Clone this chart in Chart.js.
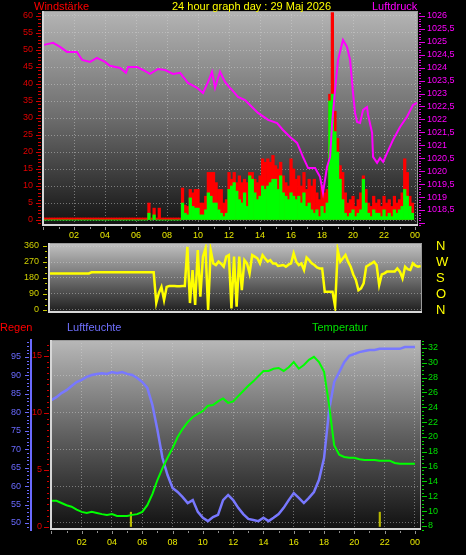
<!DOCTYPE html>
<html>
<head>
<meta charset="utf-8">
<script src="https://cdn.jsdelivr.net/npm/chart.js@4"></script>
<style>
  html, body { margin: 0; padding: 0; background: #000; width: 466px; height: 555px; overflow: hidden; }
  canvas { position: absolute; left: 0; }
  .lbl { position: absolute; font-family: "Liberation Sans", Arial, sans-serif; font-size: 11px; line-height: 12px; white-space: nowrap; }
</style>
</head>
<body>
<canvas id="windChart" width="466" height="245" style="top:0px"></canvas>
<canvas id="dirChart" width="466" height="76" style="top:240px"></canvas>
<canvas id="weatherChart" width="466" height="237" style="top:318px"></canvas>

<div class="lbl" style="left:34px;top:0px;color:#f00">Windstärke</div>
<div class="lbl" style="left:172px;top:0px;color:#ff0">24 hour graph day : 29 Maj 2026</div>
<div class="lbl" style="left:372px;top:0px;color:#f0f">Luftdruck</div>
<div class="lbl" style="left:0px;top:321px;color:#f00">Regen</div>
<div class="lbl" style="left:67px;top:321px;color:#7070ff">Luftfeuchte</div>
<div class="lbl" style="left:312px;top:321px;color:#00e000">Temperatur</div>

<script>
const FONT = '"Liberation Sans", Arial, sans-serif';

// x axis labels (hours), shared by the panels
const hourTicks = [2, 4, 6, 8, 10, 12, 14, 16, 18, 20, 22, 24];

// ---- top panel: wind (km/h, 10 min slots) and pressure (hPa)
const windTicks = [0, 5, 10, 15, 20, 25, 30, 35, 40, 45, 50, 55, 60];
const pressureTicks = [1018.5, 1019, 1019.5, 1020, 1020.5, 1021, 1021.5, 1022, 1022.5,
    1023, 1023.5, 1024, 1024.5, 1025, 1025.5, 1026];

const windGust = [
    0.6, 0.6, 0.6, 0.6, 0.6, 0.6,  0.6, 0.6, 0.6, 0.6, 0.6, 0.6,  0.6, 0.6, 0.6, 0.6, 0.6, 0.6,
    0.6, 0.6, 0.6, 0.6, 0.6, 0.6,  0.6, 0.6, 0.6, 0.6, 0.6, 0.6,  0.6, 0.6, 0.6, 0.6, 0.6, 0.6,
    0.6, 0.6, 0.6, 0.6, 0.6, 5,    0.6, 3.5, 0.6, 3.5, 0.6, 0.6,  0.6, 0.6, 0.6, 0.6, 0.6, 0.6,
    9.4, 4.4, 4, 9, 8, 9,          9, 5, 5, 7, 14, 14,            14, 11, 9, 9, 5, 6,
    14, 12, 14, 11, 13, 11,        12, 11, 14, 14, 12, 11,        13, 18, 17, 18, 17, 19,
    16, 15, 17, 13, 11, 10,        18, 15, 12, 13, 10, 14,        9, 12, 10, 12, 8, 6,
    10, 8, 9, 37, 61, 32,          24, 16, 14, 8, 5, 6,           7, 4, 6, 8, 13, 9,
    5, 4, 7, 5, 6, 4,              7, 5, 6, 4, 7, 5,              6, 8, 18, 14, 7, 5
];
const windSpeed = [
    0, 0, 0, 0, 0, 0,   0, 0, 0, 0, 0, 0,   0, 0, 0, 0, 0, 0,
    0, 0, 0, 0, 0, 0,   0, 0, 0, 0, 0, 0,   0, 0, 0, 0, 0, 0,
    0, 0, 0, 0, 0, 2,   0, 1.5, 0, 0, 0, 0, 0, 0, 0, 0, 0, 0,
    5, 2, 1.5, 6.5, 4, 3.5,   3.5, 1.5, 1.5, 3, 8, 7,   5, 5, 3, 2, 1, 2,
    9, 10, 11, 8.5, 6, 5,     8, 4, 13, 12, 8, 6,       7, 10, 9, 10, 11, 12,
    12, 9, 13, 8, 7, 6,       8, 7, 6, 7, 5, 8,         4, 5, 3, 2, 3, 1,
    4, 2, 5, 35, 37, 26,      20, 12, 6, 2, 1, 2,       3, 1, 2, 3, 12, 5,
    2, 1, 3, 2, 2, 1,         3, 1, 2, 1, 3, 2,         3, 4, 9, 7, 4, 2
];
const pressureHours = [
    0.06, 0.65, 1.10, 1.55, 2.19, 2.52, 3.03, 3.48, 4.00, 4.32,
    4.97, 5.35, 5.48, 6.06, 6.45, 6.90, 7.42, 7.87, 8.39, 8.84,
    9.35, 9.94, 10.32, 10.65, 10.90, 11.10, 11.42, 11.74, 12.06, 12.19,
    12.58, 13.03, 13.48, 13.87, 14.52, 15.10, 15.48, 15.94, 16.39, 16.77,
    17.10, 17.55, 17.87, 18.06, 18.32, 18.52, 18.65, 18.84, 19.03, 19.35,
    19.61, 19.81, 20.00, 20.13, 20.26, 20.45, 20.65, 20.90, 20.97, 21.23,
    21.29, 21.55, 21.74, 21.94, 22.19, 22.58, 23.03, 23.48, 23.87, 24.13
];
const pressureValues = [
    1024.88, 1024.96, 1024.80, 1024.61, 1024.61, 1024.30, 1024.22, 1024.38, 1024.22, 1024.07,
    1023.99, 1023.80, 1024.03, 1024.03, 1023.91, 1023.76, 1023.95, 1023.91, 1023.76, 1023.80,
    1023.41, 1023.22, 1023.02, 1023.45, 1023.84, 1023.22, 1023.84, 1023.45, 1023.22, 1023.14,
    1022.87, 1022.75, 1022.48, 1022.25, 1021.98, 1021.86, 1021.59, 1021.32, 1021.09, 1020.55,
    1020.12, 1020.12, 1019.78, 1019.16, 1020.16, 1020.55, 1021.86, 1023.14, 1024.30, 1025.07,
    1024.80, 1024.30, 1023.02, 1022.25, 1021.90, 1021.86, 1022.37, 1022.48, 1022.17, 1021.48,
    1020.55, 1020.32, 1020.51, 1020.36, 1020.70, 1021.21, 1021.71, 1022.10, 1022.56, 1022.64
];

// ---- middle panel: wind direction (degrees, 10 min slots)
const dirTicks = [0, 90, 180, 270, 360];
const dirLetters = ['N', 'O', 'S', 'W', 'N'];
const windDir = [
    206, 206, 206, 206, 206, 206, 206, 206, 206, 206, 206, 206, 206, 206, 206, 206,
    212, 212, 212, 212, 212, 212, 212, 212, 212, 212, 212, 212, 212, 212, 212, 212,
    212, 212, 212, 212, 212, 212, 212, 212, 212,
    40, 96, 130, 56, 130, 135, 135, 135, 133, 133, 135, 135,
    356, 39, 225, 28, 337, 75, 300, 347, 0, 337, 262, 253, 272, 260, 244, 300,
    309, 9, 300, 19, 300, 112, 281, 262, 206, 309, 300, 291, 262, 309, 290, 272,
    281, 262, 262, 248, 250, 253, 244, 255, 262, 319, 272, 253, 262, 225, 295, 281,
    262, 253, 240, 234, 234, 103, 103, 103, 103, 19, 337, 272, 291, 309, 272, 244,
    200, 169, 112, 122, 150, 244, 253, 262, 272, 253, 141, 200, 206, 216, 216, 216,
    216, 234, 216, 178, 244, 230, 225, 262, 250, 244, 247
];

// ---- bottom panel: humidity (%), temperature (C) every 20 min, rain (mm)
const humidityTicks = [50, 55, 60, 65, 70, 75, 80, 85, 90, 95];
const rainTicks = [0, 5, 10, 15];
const tempTicks = [8, 10, 12, 14, 16, 18, 20, 22, 24, 26, 28, 30, 32];
const humidity = [
    83.3, 84.1, 85.2, 86.0, 87.1, 88.2, 88.8, 89.6, 90.1, 90.4,
    90.6, 90.4, 90.9, 90.6, 90.9, 90.4, 90.1, 89.3, 88.2, 86.6,
    82.0, 75.2, 67.6, 63.0, 59.5, 58.4, 57.0, 55.4, 56.2, 53.0,
    51.4, 50.5, 51.6, 52.2, 56.2, 57.6, 56.2, 54.1, 52.4, 51.1,
    50.8, 50.5, 51.4, 50.5, 51.4, 52.4, 54.1, 56.2, 58.1, 56.8,
    55.4, 56.8, 58.4, 61.7, 67.6, 80.6, 88.2, 90.9, 93.6, 95.3,
    95.8, 96.3, 96.6, 96.9, 96.9, 97.2, 97.2, 97.2, 97.2, 97.2,
    97.7, 97.7, 97.7
];
const temperature = [
    11.4, 11.4, 11.1, 10.8, 10.6, 10.2, 9.9, 9.75, 9.9, 9.75,
    9.6, 9.5, 9.6, 9.35, 9.35, 9.35, 9.5, 9.6, 9.9, 10.8,
    12.3, 14.2, 15.8, 17.2, 18.5, 20.0, 21.1, 22.0, 22.7, 23.1,
    23.5, 24.2, 24.3, 24.8, 25.2, 24.6, 24.8, 25.5, 26.2, 26.9,
    27.5, 28.2, 28.9, 28.9, 29.2, 29.3, 28.9, 29.4, 30.1, 29.2,
    29.7, 30.4, 30.8, 30.1, 28.8, 24.3, 18.9, 17.6, 17.3, 17.2,
    17.2, 17.0, 16.9, 16.9, 16.9, 16.8, 16.8, 16.8, 16.5, 16.4,
    16.4, 16.4, 16.4
];
const rainHours = [0, 18.72, 18.85, 19.05, 19.25, 19.45, 19.71, 20.04, 20.37, 24.07, 24.1];
const rainValues = [0, 0, 2.4, 9.4, 12.9, 14.6, 15.7, 16.05, 16.15, 16.2, 0];
const sunHours = [5.25, 21.68];
const sunMarks = [1.3, 1.3];

// ---------------------------------------------------------------
Chart.defaults.font.family = FONT;
const GRID = 'rgba(215,215,215,0.45)';

const hourLabel = v => String(v % 24).padStart(2, '0');
const fixTicks = values => axis => { axis.ticks = values.map(v => ({ value: v })); };
const pairs = (xs, ys) => ys.map((y, i) => ({ x: xs[i], y: y }));
// fixed axis sizes, and no extra room for the end labels
const fitWidth = w => s => { s.width = w; s.paddingTop = 0; s.paddingBottom = 0; };
const fitHeight = h => s => { s.height = h; s.paddingLeft = 0; s.paddingRight = 0; };

function drawTickMarks(chart, spec) {
    const s = chart.scales[spec.id];
    const a = chart.chartArea;
    const ctx = chart.ctx;
    ctx.save();
    ctx.fillStyle = spec.color;
    const first = Math.ceil(s.min / spec.step - 1e-9);
    const last = Math.floor(s.max / spec.step + 1e-9);
    for (let k = first; k <= last; k++) {
        const v = k * spec.step;
        const r = v / spec.major;
        const len = Math.abs(r - Math.round(r)) < 1e-6 ? spec.majorLen : spec.minorLen;
        const p = Math.round(s.getPixelForValue(v));
        if (s.isHorizontal()) {
            ctx.fillRect(p, a.bottom + spec.gap, 1, len);
        } else if (s.position === 'left') {
            ctx.fillRect(s.right - spec.gap - len, p, len, 1);
        } else {
            ctx.fillRect(s.left + spec.gap, p, len, 1);
        }
    }
    ctx.restore();
}

function decor(stops, tickSpecs) {
    return {
        id: 'decor',
        beforeDraw(chart) {
            const { ctx, chartArea: a } = chart;
            const g = ctx.createLinearGradient(0, a.top, 0, a.bottom);
            stops.forEach(s => g.addColorStop(s[0], s[1]));
            ctx.save();
            ctx.fillStyle = g;
            ctx.fillRect(a.left, a.top, a.right - a.left, a.bottom - a.top);
            ctx.restore();
        },
        afterDraw(chart) {
            const { ctx, chartArea: a } = chart;
            ctx.save();
            ctx.strokeStyle = '#9a9a9a';
            ctx.lineWidth = 1;
            ctx.beginPath();
            ctx.moveTo(a.left, a.top + 0.5);
            ctx.lineTo(a.right - 0.5, a.top + 0.5);
            ctx.lineTo(a.right - 0.5, a.bottom);
            ctx.stroke();
            ctx.strokeStyle = '#d6d6d6';
            ctx.lineWidth = 2;
            ctx.beginPath();
            ctx.moveTo(a.left + 1, a.top);
            ctx.lineTo(a.left + 1, a.bottom - 1);
            ctx.lineTo(a.right, a.bottom - 1);
            ctx.stroke();
            ctx.restore();
            tickSpecs.forEach(s => drawTickMarks(chart, s));
        }
    };
}

const baseOptions = {
    responsive: false,
    animation: false,
    events: [],
    plugins: { legend: { display: false }, tooltip: { enabled: false } }
};

// ---- wind + pressure
const windTimes = windGust.map((_, i) => i / 6);

new Chart(document.getElementById('windChart'), {
    type: 'bar',
    data: {
        datasets: [{
            type: 'line',
            data: pairs(pressureHours, pressureValues),
            yAxisID: 'p',
            borderColor: '#ff00ff',
            borderWidth: 2,
            pointRadius: 0,
            tension: 0
        }, {
            data: pairs(windTimes, windSpeed),
            yAxisID: 'w',
            backgroundColor: '#00ff00',
            grouped: false,
            barPercentage: 1,
            categoryPercentage: 1,
            borderWidth: 0
        }, {
            data: pairs(windTimes, windGust),
            yAxisID: 'w',
            backgroundColor: '#ff0000',
            grouped: false,
            barPercentage: 1,
            categoryPercentage: 1,
            borderWidth: 0
        }]
    },
    options: {
        ...baseOptions,
        layout: { padding: { top: 11, left: 0, right: 0, bottom: 0 } },
        scales: {
            x: {
                type: 'linear', min: -0.065, max: 24.19, offset: false,
                afterFit: fitHeight(19),
                afterBuildTicks: fixTicks(hourTicks),
                ticks: { color: '#e8e800', font: { size: 9 }, padding: 4, callback: hourLabel, maxRotation: 0, autoSkip: false },
                grid: { color: GRID, drawTicks: false, offset: false },
                border: { display: false, dash: [1, 2] }
            },
            w: {
                type: 'linear', position: 'left', min: -1.76, max: 61.47,
                afterFit: fitWidth(42),
                afterBuildTicks: fixTicks(windTicks),
                ticks: { color: '#e00000', font: { size: 9 }, padding: 9, autoSkip: false },
                grid: { color: GRID, drawTicks: false },
                border: { display: false, dash: [1, 2] }
            },
            p: {
                type: 'linear', position: 'right', min: 1017.88, max: 1026.19,
                afterFit: fitWidth(48),
                afterBuildTicks: fixTicks(pressureTicks),
                ticks: { color: '#ff00ff', font: { size: 9 }, padding: 9, autoSkip: false, callback: v => String(v).replace('.', ',') },
                grid: { drawOnChartArea: false, drawTicks: false },
                border: { display: false }
            }
        }
    },
    plugins: [decor([[0, '#b4b4b4'], [0.5, '#6c6c6c'], [1, '#121212']], [
        { id: 'w', step: 1, major: 5, color: '#d00000', minorLen: 3, majorLen: 5, gap: 1 },
        { id: 'p', step: 0.1, major: 0.5, color: '#e000e0', minorLen: 2, majorLen: 6, gap: 1 },
        { id: 'x', step: 1, major: 2, color: '#909090', minorLen: 2, majorLen: 3, gap: 1 }
    ])]
});

// ---- wind direction
new Chart(document.getElementById('dirChart'), {
    type: 'line',
    data: {
        datasets: [{
            data: pairs(windTimes, windDir),
            yAxisID: 'd',
            borderColor: '#ffff00',
            borderWidth: 2.5,
            pointRadius: 0,
            tension: 0
        }]
    },
    options: {
        ...baseOptions,
        layout: { padding: { top: 3, left: 0, right: 0, bottom: 3 } },
        scales: {
            x: { type: 'linear', display: false, min: -0.129, max: 23.92 },
            d: {
                type: 'linear', position: 'left', min: -16.9, max: 376.9,
                afterFit: fitWidth(48),
                afterBuildTicks: fixTicks(dirTicks),
                ticks: { color: '#d0d000', font: { size: 9 }, padding: 9, autoSkip: false },
                grid: { color: GRID, drawTicks: false },
                border: { display: false, dash: [1, 2] }
            },
            dn: {
                type: 'linear', position: 'right', min: -16.9, max: 376.9,
                afterFit: fitWidth(44),
                afterBuildTicks: fixTicks(dirTicks),
                ticks: { color: '#ffff00', font: { size: 13 }, padding: 14, autoSkip: false, callback: v => dirLetters[dirTicks.indexOf(v)] },
                grid: { drawOnChartArea: false, drawTicks: false },
                border: { display: false }
            }
        }
    },
    plugins: [decor([[0, '#c2c2c2'], [0.5, '#707070'], [1, '#1c1c1c']], [
        { id: 'd', step: 30, major: 90, color: '#c8c800', minorLen: 2, majorLen: 4, gap: 1 }
    ])]
});

// ---- rain, humidity, temperature
const slotHours = humidity.map((_, i) => i / 3);

new Chart(document.getElementById('weatherChart'), {
    type: 'line',
    data: {
        datasets: [{
            data: pairs(rainHours, rainValues),
            yAxisID: 'r',
            borderColor: '#ff0000',
            borderWidth: 2.5,
            pointRadius: 0,
            tension: 0
        }, {
            data: pairs(slotHours, temperature),
            yAxisID: 't',
            borderColor: '#00ff00',
            borderWidth: 2,
            pointRadius: 0,
            tension: 0
        }, {
            data: pairs(slotHours, humidity),
            yAxisID: 'h',
            borderColor: '#7878ff',
            borderWidth: 2.5,
            pointRadius: 0,
            tension: 0
        }, {
            type: 'bar',
            data: pairs(sunHours, sunMarks),
            yAxisID: 'r',
            backgroundColor: '#b8b800',
            barThickness: 1.5,
            grouped: false
        }]
    },
    options: {
        ...baseOptions,
        layout: { padding: { top: 22, left: 0, right: 0, bottom: 0 } },
        scales: {
            x: {
                type: 'linear', min: -0.092, max: 24.40, offset: false,
                afterFit: fitHeight(25),
                afterBuildTicks: fixTicks(hourTicks),
                ticks: { color: '#e8e800', font: { size: 9 }, padding: 7, callback: hourLabel, maxRotation: 0, autoSkip: false },
                grid: { color: GRID, drawTicks: false, offset: false },
                border: { display: false, dash: [1, 2] }
            },
            h: {
                type: 'linear', position: 'left', weight: 1, min: 48.10, max: 99.59,
                afterFit: fitWidth(31),
                afterBuildTicks: fixTicks(humidityTicks),
                ticks: { color: '#6a6aff', font: { size: 9 }, padding: 10, autoSkip: false },
                grid: { color: c => (c.tick && c.tick.value % 10 === 0) ? GRID : 'rgba(0,0,0,0)', drawTicks: false },
                border: { display: true, color: '#6a6aff', width: 2, dash: [1, 2] }
            },
            r: {
                type: 'linear', position: 'left', weight: 0, min: -0.263, max: 16.40,
                afterFit: fitWidth(19),
                afterBuildTicks: fixTicks(rainTicks),
                ticks: { color: '#e00000', font: { size: 9 }, padding: 8, autoSkip: false },
                grid: { drawOnChartArea: false, drawTicks: false },
                border: { display: false }
            },
            t: {
                type: 'linear', position: 'right', min: 7.46, max: 33.07,
                afterFit: fitWidth(45),
                afterBuildTicks: fixTicks(tempTicks),
                ticks: { color: '#00e000', font: { size: 9 }, padding: 7, autoSkip: false },
                grid: { drawOnChartArea: false, drawTicks: false },
                border: { display: false }
            }
        }
    },
    plugins: [decor([[0, '#b8b8b8'], [0.5, '#606060'], [1, '#101010']], [
        { id: 'h', step: 1, major: 5, color: '#6a6aff', minorLen: 2, majorLen: 4, gap: 2 },
        { id: 'r', step: 0.5, major: 5, color: '#d00000', minorLen: 2, majorLen: 5, gap: 1 },
        { id: 't', step: 0.5, major: 2, color: '#00d000', minorLen: 2, majorLen: 5, gap: 1 },
        { id: 'x', step: 1, major: 2, color: '#909090', minorLen: 2, majorLen: 3, gap: 1 }
    ])]
});
</script>
</body>
</html>
